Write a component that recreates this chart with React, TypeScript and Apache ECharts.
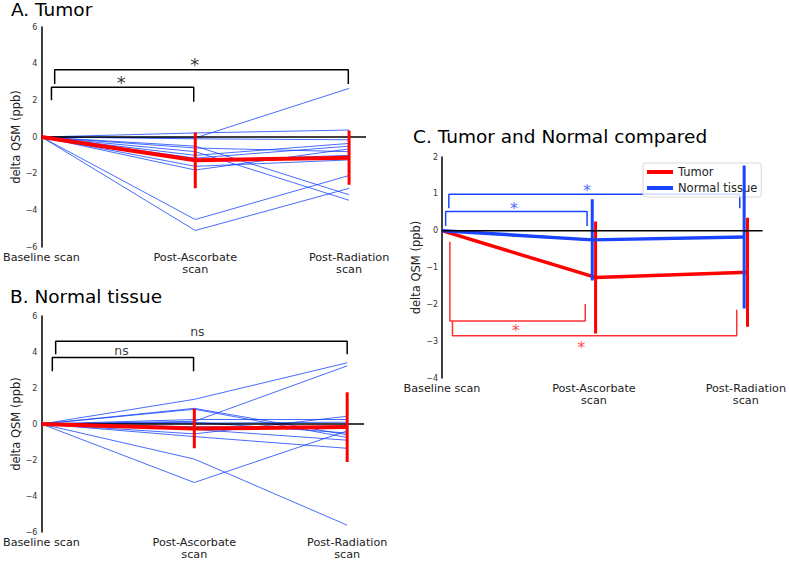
import React, { useEffect, useRef } from 'react';
import * as echarts from 'echarts';

// ---- data ----
const categories = ['Baseline scan', 'Post-Ascorbate\nscan', 'Post-Radiation\nscan'];
const timepoints = [0, 1, 2];

const tumorPatients: number[][] = [
  [0, -0.05, 2.65],
  [0, 0.22, 0.38],
  [0, -0.1, -0.15],
  [0, -0.5, -3.15],
  [0, -0.8, -3.45],
  [0, -1.0, -0.35],
  [0, -1.15, -0.5],
  [0, -1.6, -1.25],
  [0, -1.8, -0.65],
  [0, -4.5, -2.1],
  [0, -5.1, -2.8],
  [0, -0.6, -0.8],
  [0, -1.3, -1.0],
];

const normalPatients: number[][] = [
  [0, 1.37, 3.4],
  [0, 0.15, 3.23],
  [0, 0.87, -0.6],
  [0, 0.82, -0.75],
  [0, -1.95, -5.62],
  [0, -3.25, -0.38],
  [0, -0.7, -1.35],
  [0, -0.55, 0.43],
  [0, 0.25, 0.25],
  [0, 0.05, 0.1],
  [0, -0.15, -0.2],
  [0, -0.3, -0.9],
  [0, 0.1, -0.5],
];

const tumorMean = [0, -1.27, -1.13];
const tumorSD = [0, 1.52, 1.48];
const normalMean = [0, -0.25, -0.17];
const normalSD = [0, 1.1, 1.94];

// x offsets of the two groups in panel C
const tumorShift = [0, 0.011, 0.011];
const normalShift = [0, -0.011, -0.011];

// significance brackets: [xLeft, xRight, yBar, yLeftEnd, yRightEnd]
const bracketsA = [
  [0.065, 0.99, 2.71, 2.0, 1.92],
  [0.086, 1.995, 3.67, 2.89, 2.89],
];
const bracketsB = [
  [0.071, 0.995, 3.7, 2.93, 2.93],
  [0.093, 2.0, 4.6, 3.87, 3.87],
];
const bracketsCNormal = [
  [0.024, 0.955, 0.52, 0.13, 0.13],
  [0.045, 1.96, 0.99, 0.61, 0.61],
];
const bracketsCTumor = [
  [0.052, 0.943, -2.45, -0.3, -1.99],
  [0.069, 1.94, -2.85, -2.45, -2.15],
];
// annotation texts: [x, y, text]
const starsA: [number, number, string][] = [
  [0.518, 3.0, '*'],
  [0.997, 3.95, '*'],
];
const starsB: [number, number, string][] = [
  [0.524, 4.09, 'ns'],
  [1.02, 5.12, 'ns'],
];
const starsCNormal: [number, number, string][] = [
  [0.474, 0.6, '*'],
  [0.955, 1.09, '*'],
];
const starsCTumor: [number, number, string][] = [
  [0.485, -2.72, '*'],
  [0.916, -3.16, '*'],
];

const FONT = 'DejaVu Sans';
const XMAX = 2.11;
const BLUE = '#1a44ff';
const THIN = 'rgba(10,60,255,0.75)';
const RED = '#ff0000';

function bracketSeries(gi: number, b: number[][], color: string) {
  return b.map((r) => ({
    type: 'line',
    xAxisIndex: gi,
    yAxisIndex: gi,
    data: [
      [r[0], r[3]],
      [r[0], r[2]],
      [r[1], r[2]],
      [r[1], r[4]],
    ],
    symbol: 'none',
    lineStyle: { color, width: 1.5 },
    z: 3,
    silent: true,
  }));
}

function textSeries(gi: number, s: [number, number, string][], color: string, size: number) {
  return {
    type: 'scatter',
    xAxisIndex: gi,
    yAxisIndex: gi,
    symbolSize: 0,
    silent: true,
    data: s.map((r) => ({ value: [r[0], r[1]], name: r[2] })),
    label: {
      show: true,
      position: 'inside',
      formatter: (p: any) => p.name,
      color,
      fontSize: size,
      fontFamily: FONT,
    },
    z: 6,
  };
}

function errorBars(gi: number, xs: number[], mean: number[], sd: number[], color: string, width: number, z: number) {
  const out: any[] = [];
  for (let i = 1; i < mean.length; i++) {
    out.push({
      type: 'line',
      xAxisIndex: gi,
      yAxisIndex: gi,
      data: [
        [xs[i], mean[i] + sd[i]],
        [xs[i], mean[i] - sd[i]],
      ],
      symbol: 'none',
      lineStyle: { color, width },
      z,
      silent: true,
    });
  }
  return out;
}

function zeroLine(gi: number, z: number) {
  return {
    type: 'line',
    xAxisIndex: gi,
    yAxisIndex: gi,
    data: [
      [0, 0],
      [XMAX, 0],
    ],
    symbol: 'none',
    lineStyle: { color: '#000', width: 1.5 },
    z,
    silent: true,
  };
}

function patientSeries(gi: number, patients: number[][]) {
  return patients.map((p) => ({
    type: 'line',
    xAxisIndex: gi,
    yAxisIndex: gi,
    data: p.map((v, i) => [timepoints[i], v]),
    symbol: 'none',
    lineStyle: { color: THIN, width: 1 },
    z: 2,
    silent: true,
  }));
}

function meanSeries(gi: number, xs: number[], mean: number[], color: string, width: number, name?: string, z = 4) {
  return {
    type: 'line',
    name,
    xAxisIndex: gi,
    yAxisIndex: gi,
    data: mean.map((v, i) => [xs[i], v]),
    symbol: 'none',
    color,
    lineStyle: { color, width },
    z,
    silent: true,
  };
}

const minusFmt = (v: number) => String(v).replace('-', '\u2212');

function xAxis(gi: number) {
  return {
    type: 'value',
    gridIndex: gi,
    min: 0,
    max: XMAX,
    interval: 1,
    axisLine: { show: false },
    axisTick: { show: false },
    splitLine: { show: false },
    axisLabel: {
      fontFamily: FONT,
      fontSize: 11.2,
      color: '#222',
      lineHeight: 12.5,
      margin: 4,
      showMaxLabel: false,
      formatter: (v: number) => (Number.isInteger(v) && v >= 0 && v <= 2 ? categories[v] : ''),
    },
  };
}

function yAxis(gi: number, min: number, max: number, interval: number, gap: number) {
  return {
    type: 'value',
    gridIndex: gi,
    min,
    max,
    interval,
    name: 'delta QSM (ppb)',
    nameLocation: 'middle',
    nameGap: gap,
    nameTextStyle: { fontFamily: FONT, fontSize: 11.5, color: '#222' },
    axisLine: { show: true, onZero: false, lineStyle: { color: '#000', width: 1.5 } },
    axisTick: { show: false },
    splitLine: { show: false },
    axisLabel: {
      fontFamily: FONT,
      fontSize: 8,
      lineHeight: 8,
      color: '#333',
      margin: 4,
      formatter: minusFmt,
    },
  };
}

export default function App() {
  const ref = useRef<HTMLDivElement>(null);
  useEffect(() => {
    if (!ref.current) return;
    const chart = echarts.init(ref.current, undefined, { renderer: 'svg' });
    const titleStyle = { fontFamily: FONT, fontSize: 18.5, fontWeight: 'normal', color: '#000' };
    const option: any = {
      animation: false,
      backgroundColor: '#fff',
      title: [
        { text: 'A. Tumor', left: 11, top: 0, padding: 0, textStyle: titleStyle },
        { text: 'B. Normal tissue', left: 10, top: 287, padding: 0, textStyle: titleStyle },
        { text: 'C. Tumor and Normal compared', left: 413, top: 127, padding: 0, textStyle: titleStyle },
      ],
      legend: {
        left: 643,
        top: 163,
        orient: 'vertical',
        padding: [3, 4, 3, 4],
        itemGap: 4,
        itemWidth: 26,
        itemHeight: 4,
        borderColor: '#d8d8d8',
        borderWidth: 1,
        borderRadius: 3,
        backgroundColor: 'rgba(255,255,255,0.8)',
        textStyle: { fontFamily: FONT, fontSize: 11.5, color: '#222' },
        data: [
          { name: 'Tumor', icon: 'rect' },
          { name: 'Normal tissue', icon: 'rect' },
        ],
      },
      grid: [
        { left: 40, top: 27, width: 326, height: 220 },
        { left: 39, top: 316, width: 325, height: 221 },
        { left: 442, top: 157, width: 326, height: 221 },
      ],
      xAxis: [xAxis(0), xAxis(1), xAxis(2)],
      yAxis: [yAxis(0, -6, 6, 2, 19), yAxis(1, -6, 6, 2, 19), yAxis(2, -4, 2, 1, 20)],
      series: [
        // Panel A
        ...patientSeries(0, tumorPatients),
        zeroLine(0, 3),
        meanSeries(0, timepoints, tumorMean, RED, 4),
        ...errorBars(0, timepoints, tumorMean, tumorSD, RED, 3, 5),
        ...bracketSeries(0, bracketsA, '#000'),
        textSeries(0, starsA, '#000', 18),
        // Panel B
        ...patientSeries(1, normalPatients),
        zeroLine(1, 3),
        meanSeries(1, timepoints, normalMean, RED, 4),
        ...errorBars(1, timepoints, normalMean, normalSD, RED, 3, 5),
        ...bracketSeries(1, bracketsB, '#000'),
        textSeries(1, starsB, '#000', 12.5),
        // Panel C
        meanSeries(2, timepoints.map((t, i) => t + tumorShift[i]), tumorMean, RED, 3.5, 'Tumor', 4),
        ...errorBars(2, timepoints.map((t, i) => t + tumorShift[i]), tumorMean, tumorSD, RED, 3, 4),
        meanSeries(2, timepoints.map((t, i) => t + normalShift[i]), normalMean, BLUE, 3.5, 'Normal tissue', 5),
        ...errorBars(2, timepoints.map((t, i) => t + normalShift[i]), normalMean, normalSD, BLUE, 3, 5),
        zeroLine(2, 6),
        ...bracketSeries(2, bracketsCNormal, BLUE),
        ...bracketSeries(2, bracketsCTumor, '#ff3030'),
        textSeries(2, starsCNormal, BLUE, 16),
        textSeries(2, starsCTumor, '#ff2020', 16),
      ],
    };
    chart.setOption(option);
    return () => chart.dispose();
  }, []);
  return (
    <div
      ref={ref}
      style={{ position: 'absolute', left: 0, top: 0, width: 789, height: 561, background: '#fff' }}
    />
  );
}
